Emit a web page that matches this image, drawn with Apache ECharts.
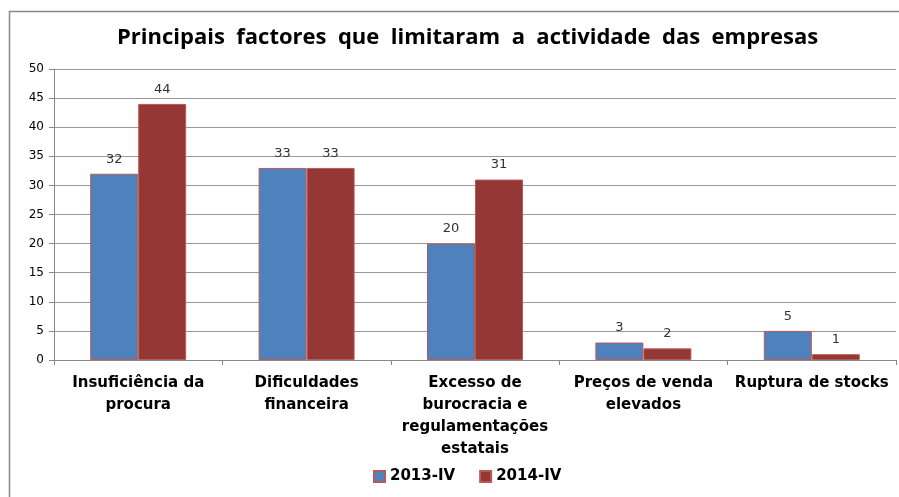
<!DOCTYPE html>
<html>
<head>
<meta charset="utf-8">
<script src="https://cdn.jsdelivr.net/npm/echarts@6/dist/echarts.min.js"></script>
<style>
  html, body { margin: 0; padding: 0; background: #fff; }
  #chart { width: 899px; height: 497px; }
</style>
</head>
<body>
<div id="chart"></div>
<script>
// Principais factores que limitaram a actividade das empresas
const categories = [
  'Insuficiência da\nprocura',
  'Dificuldades\nfinanceira',
  'Excesso de\nburocracia e\nregulamentações\nestatais',
  'Preços de venda\nelevados',
  'Ruptura de stocks'
];
const seriesNames = ['2013-IV', '2014-IV'];
const values2013 = [32, 33, 20, 3, 5];
const values2014 = [44, 33, 31, 2, 1];
const colors = ['#4F81BD', '#953735'];

const chart = echarts.init(document.getElementById('chart'));

const labelStyle = {
  show: true,
  position: 'top',
  distance: 8,
  color: '#333',
  fontFamily: 'DejaVu Sans',
  fontSize: 13
};

const option = {
  animation: false,
  title: {
    text: 'Principais  factores  que  limitaram  a  actividade  das  empresas',
    left: 112,
    top: 22,
    textStyle: {
      fontFamily: 'Open Sans',
      fontWeight: 'bold',
      fontSize: 22,
      color: '#000'
    }
  },
  legend: {
    data: seriesNames,
    bottom: 8,
    left: 368,
    itemWidth: 11,
    itemHeight: 11,
    itemGap: 24,
    icon: 'rect',
    textStyle: {
      fontFamily: 'DejaVu Sans',
      fontWeight: 'bold',
      fontSize: 15,
      color: '#000'
    }
  },
  grid: {
    left: 54,
    right: 3,
    top: 69,
    bottom: 137
  },
  xAxis: {
    type: 'category',
    data: categories,
    axisLine: { lineStyle: { color: '#888' } },
    axisTick: { show: true, length: 5, lineStyle: { color: '#888' } },
    axisLabel: {
      interval: 0,
      margin: 12,
      lineHeight: 22,
      fontFamily: 'DejaVu Sans',
      fontWeight: 'bold',
      fontSize: 15,
      color: '#000'
    }
  },
  yAxis: {
    type: 'value',
    min: 0,
    max: 50,
    interval: 5,
    axisLine: { show: true, lineStyle: { color: '#888' } },
    axisTick: { show: true, length: 5, lineStyle: { color: '#888' } },
    splitLine: { lineStyle: { color: '#999' } },
    axisLabel: {
      margin: 10,
      fontFamily: 'DejaVu Sans',
      fontSize: 12,
      color: '#000'
    }
  },
  series: [
    {
      name: seriesNames[0],
      type: 'bar',
      data: values2013,
      barGap: '0%',
      barCategoryGap: '43%',
      itemStyle: { color: colors[0], borderColor: '#B65A57', borderWidth: 1 },
      label: labelStyle
    },
    {
      name: seriesNames[1],
      type: 'bar',
      data: values2014,
      itemStyle: { color: colors[1], borderColor: '#B65A57', borderWidth: 1 },
      label: labelStyle
    }
  ],
  graphic: [
    {
      type: 'rect',
      shape: { x: 9.5, y: 11.5, width: 1000, height: 1000 },
      style: { fill: 'none', stroke: '#888', lineWidth: 1.5 },
      silent: true
    }
  ]
};

chart.setOption(option);
</script>
</body>
</html>
